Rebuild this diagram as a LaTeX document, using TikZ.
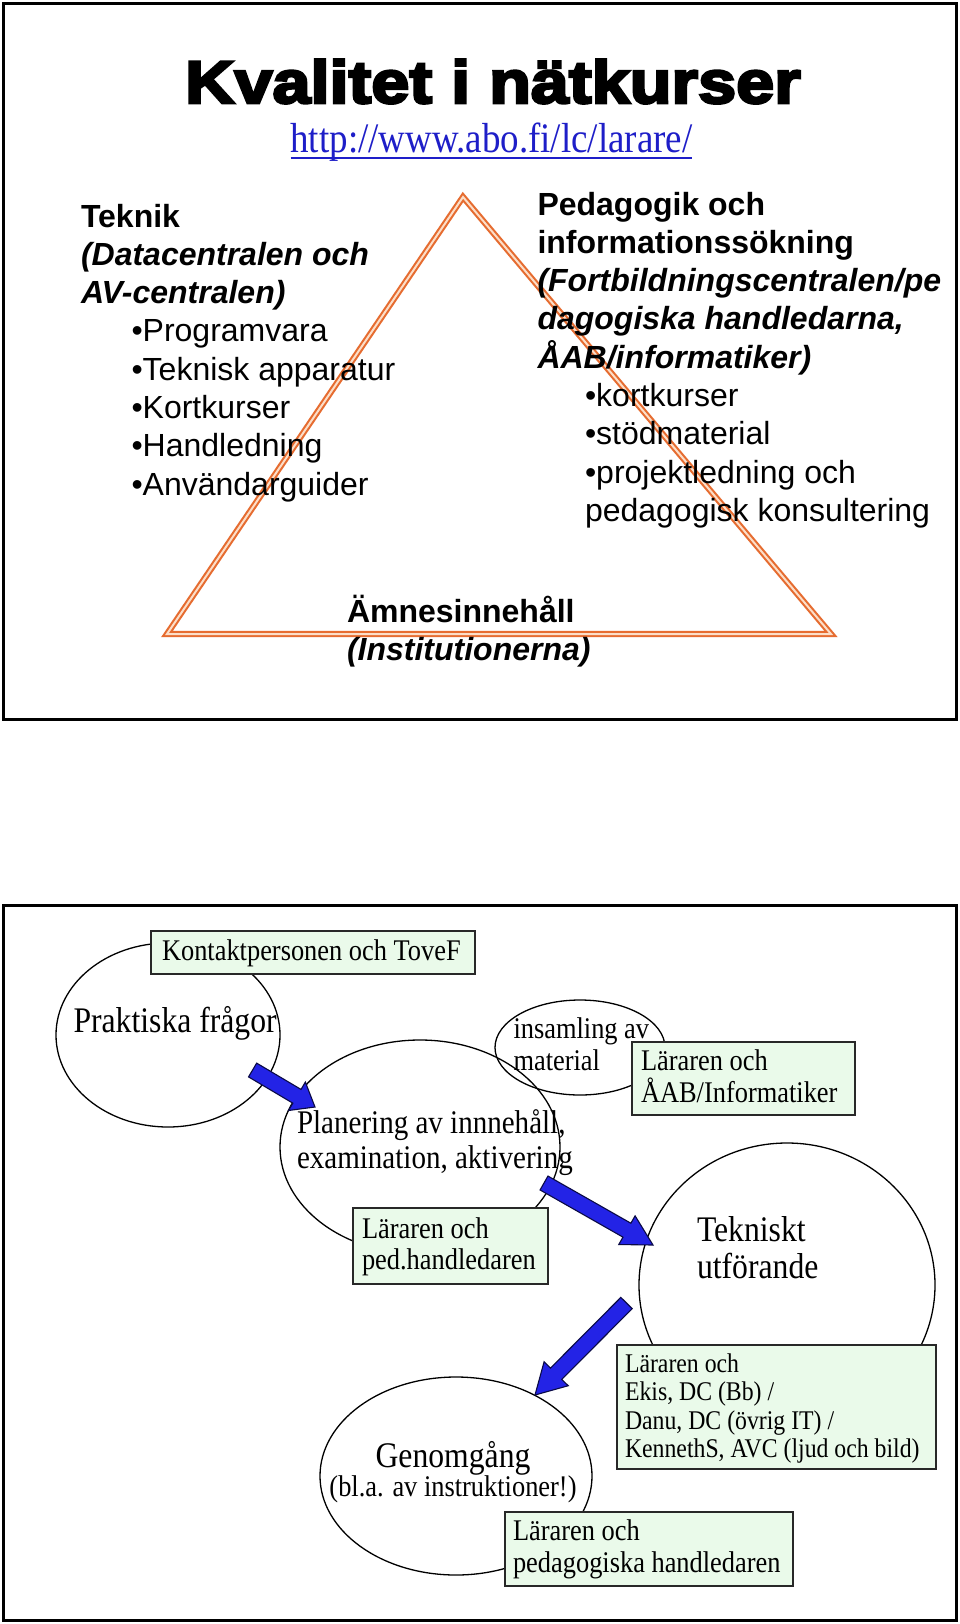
\documentclass[tikz,border=0pt]{standalone}
\usepackage{fontspec}
\setmainfont{Liberation Serif}
\newfontfamily\arialf{Liberation Sans}
\newfontfamily\titlef[FakeStretch=1.14,FakeBold=4.5]{Liberation Sans Bold}
\newfontfamily\tnr[FakeStretch=0.88]{Liberation Serif}
\usetikzlibrary{shapes.geometric,calc}
\definecolor{triorange}{RGB}{230,108,48}
\definecolor{triinner}{RGB}{252,222,200}
\definecolor{boxfill}{RGB}{234,250,234}
\definecolor{boxline}{RGB}{40,40,40}
\definecolor{arrfill}{RGB}{35,35,230}
\definecolor{arrline}{RGB}{10,10,70}
\definecolor{urlblue}{RGB}{30,30,200}
\tikzset{
  frame/.style={draw=black, line width=3pt},
  txt/.style={inner sep=0pt, outer sep=0pt, anchor=base west, align=flush left},
  sanstxt/.style={txt, font={\fontsize{32}{38.3}\arialf}},
  serif/.style 2 args={txt, font={\fontsize{#1}{#2}\tnr}},
  ell/.style={draw=black, line width=1.3pt, ellipse, inner sep=0pt},
  lbox/.style={draw=boxline, fill=boxfill, line width=1.5pt, rectangle, inner sep=0pt, anchor=north west},
  arrowstyle/.style={fill=arrfill, draw=arrline, line width=1.1pt, line join=miter},
  tri/.style={draw=triorange, line width=2.1pt, double=triinner, double distance=2pt, line join=miter}
}
\newcommand\blockarr[5]{%
  \coordinate (bam) at ($(#2)!#5!(#1)$);
  \filldraw[arrowstyle] ($(#1)!#3!90:(#2)$) -- ($(bam)!#3!-90:(#1)$) -- ($(bam)!#4!-90:(#1)$) -- (#2)
    -- ($(bam)!#4!90:(#1)$) -- ($(bam)!#3!90:(#1)$) -- ($(#1)!#3!-90:(#2)$) -- cycle;}
\begin{document}
\begin{tikzpicture}[x=1pt,y=-1pt]
\useasboundingbox (0,0) rectangle (960,1624);
\fill[white] (0,0) rectangle (960,1624);
% ---------- top panel ----------
\draw[frame] (3,4) rectangle (956,719);
\node[txt, anchor=base, font={\fontsize{60}{64}\titlef}] (title) at (493,103) {Kvalitet i nätkurser};
\node[txt, anchor=base, font={\fontsize{42}{44}\tnr}, text=urlblue] (url) at (491.5,153) {http://www.abo.fi/lc/larare/};
\draw[urlblue, line width=1.8pt] ([yshift=-5pt]url.base west) -- ([yshift=-5pt]url.base east);
\coordinate (apex) at (463,197);
\coordinate (bl) at (167,634);
\coordinate (br) at (831,634);
\draw[tri] (apex) -- (bl) -- (br) -- cycle;
\node[sanstxt, text width=380pt] (teknik) at (81,227)
  {\textbf{Teknik}\\\textbf{\textit{(Datacentralen och}}\\\textbf{\textit{AV-centralen)}}\\
   \hspace*{50.5pt}•Programvara\\\hspace*{50.5pt}•Teknisk apparatur\\\hspace*{50.5pt}•Kortkurser\\
   \hspace*{50.5pt}•Handledning\\\hspace*{50.5pt}•Användarguider};
\node[sanstxt, text width=420pt] (pedag) at (537.5,215)
  {\textbf{Pedagogik och}\\\textbf{informationssökning}\\\textbf{\textit{(Fortbildningscentralen/pe}}\\
   \textbf{\textit{dagogiska handledarna,}}\\\textbf{\textit{ÅAB/informatiker)}}\\
   \hspace*{47.5pt}•kortkurser\\\hspace*{47.5pt}•stödmaterial\\\hspace*{47.5pt}•projektledning och\\
   \hspace*{47.5pt}pedagogisk konsultering};
\node[sanstxt, text width=320pt] (amne) at (347,622)
  {\textbf{Ämnesinnehåll}\\\textbf{\textit{(Institutionerna)}}};
% ---------- bottom panel ----------
\draw[frame] (3,905) rectangle (956,1620);
\node[ell, minimum width=224pt, minimum height=184pt] (e1) at (168,1035) {};
\node[ell, minimum width=280pt, minimum height=214pt] (e2) at (420,1147) {};
\node[ell, minimum width=170pt, minimum height=95pt] (e3) at (580,1047.5) {};
\node[ell, minimum width=296pt, minimum height=284pt] (e4) at (787,1285) {};
\node[ell, minimum width=272pt, minimum height=198pt] (e5) at (456,1476) {};
\node[lbox, minimum width=324pt, minimum height=43pt] (kbox) at (150,930) {};
\node[lbox, minimum width=223pt, minimum height=73pt] (abox) at (631,1041) {};
\node[lbox, minimum width=195pt, minimum height=76pt] (pbox) at (352,1207) {};
\node[lbox, minimum width=319pt, minimum height=124pt] (ebox) at (616,1344) {};
\node[lbox, minimum width=288pt, minimum height=74pt] (gbox) at (504,1511) {};
% arrows
\coordinate (a1s) at (252.6,1070);
\coordinate (a1e) at (315,1107);
\coordinate (a2s) at (544,1183);
\coordinate (a2e) at (653,1245);
\coordinate (a3s) at (626.5,1303);
\coordinate (a3e) at (535,1395);
\blockarr{a1s}{a1e}{8pt}{16.5pt}{21pt}
\blockarr{a2s}{a2e}{8pt}{16.5pt}{30pt}
\blockarr{a3s}{a3e}{8pt}{17pt}{30pt}
% texts
\node[serif={30}{32}] (kt) at (162,960) {Kontaktpersonen och ToveF};
\node[serif={36}{38}] (pt) at (73.5,1032) {Praktiska frågor};
\node[serif={30}{32}, text width=160pt] (it) at (513.5,1038) {insamling av\\material};
\node[serif={30}{32}, text width=210pt] (at) at (641,1070) {Läraren och\\ÅAB/Informatiker};
\node[serif={33}{35}, text width=300pt] (plt) at (297,1133) {Planering av innnehåll,\\examination, aktivering};
\node[serif={30}{31}, text width=185pt] (pht) at (362,1238) {Läraren och\\ped.handledaren};
\node[serif={36}{37}, text width=200pt] (tkt) at (697,1241) {Tekniskt\\utförande};
\node[serif={27}{28.6}, text width=310pt] (ekt) at (625,1372)
  {Läraren och\\Ekis, DC (Bb) /\\Danu, DC (övrig IT) /\\KennethS, AVC (ljud och bild)};
\node[txt, anchor=base, align=flush center, text width=300pt, font={\tnr}] (gt) at (453,1467)
  {\fontsize{36}{36}\selectfont Genomgång\\\fontsize{30}{32}\selectfont (bl.a. av instruktioner!)};
\node[serif={30}{32}, text width=280pt] (gbt) at (513,1540) {Läraren och\\pedagogiska handledaren};
\end{tikzpicture}
\end{document}
